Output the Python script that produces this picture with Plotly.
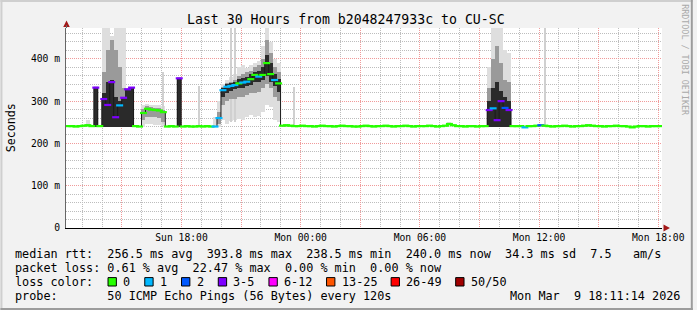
import plotly.graph_objects as go
from datetime import datetime, timedelta

# ---------------- data ----------------
start_time = datetime(2026, 3, 8, 12, 11, 14)
end_time = datetime(2026, 3, 9, 18, 11, 14)
step_minutes = 12

# median rtt per 12-minute step (ms)
median_ms = [
    241, 241, 240, 241, 242, 243, 241, 332, 241, 305,
    291, 345, 262, 290, 308, 328, 332, 241, 240, 272,
    282, 280, 279, 278, 274, 240, 241, 240, 354, 240,
    241, 240, 240, 241, 240, 241, 240, 240, 260, 326,
    334, 336, 338, 342, 344, 346, 352, 362, 358, 362,
    390, 364, 350, 342, 242, 243, 242, 241, 241, 242,
    241, 241, 240, 241, 242, 241, 241, 240, 241, 242,
    241, 241, 240, 240, 241, 242, 241, 240, 241, 241,
    242, 241, 240, 241, 241, 242, 241, 240, 241, 241,
    241, 242, 241, 240, 241, 242, 246, 243, 241, 241,
    240, 241, 241, 240, 241, 241, 279, 283, 255, 300,
    284, 279, 241, 241, 241, 238, 241, 241, 242, 243,
    242, 241, 240, 241, 241, 242, 241, 240, 241, 241,
    242, 243, 242, 241, 241, 240, 241, 241, 242, 241,
    241, 240, 238, 240, 241, 241, 240, 241, 241, 241,
]

# steps with packet loss and their loss class (index into loss_colors)
loss_steps = [7, 9, 10, 11, 12, 13, 14, 15, 16, 28, 37, 38, 39, 40, 41, 42, 44,
              45, 48, 52, 106, 107, 108, 109, 110, 111, 115, 119]
loss_class = [3, 3, 3, 3, 3, 1, 3, 3, 3, 3, 1, 1, 1, 1, 1, 1, 1,
              1, 1, 1, 3, 1, 3, 3, 2, 3, 1, 2]

# smoke: light band (outer pings)
light_steps = [5, 7, 9, 10, 11, 12, 13, 14, 15, 16, 19, 20, 21, 22, 23, 24, 28, 37, 38,
               39, 40, 41, 42, 43, 44, 45, 46, 47, 48, 49, 50, 51, 52, 53, 96,
               106, 107, 108, 109, 110, 111]
light_lo = [238, 238, 238, 238, 238, 238, 238, 238, 238, 238, 240, 245, 245, 244, 244, 242, 238, 238, 240,
            255, 245, 252, 255, 258, 255, 262, 268, 262, 265, 275, 290, 285, 255, 250, 239,
            238, 238, 238, 238, 238, 238]
light_hi = [255, 336, 473, 473, 455, 473, 473, 473, 330, 334, 290, 293, 292, 290, 290, 288, 356, 262, 300,
            340, 350, 356, 365, 380, 385, 378, 385, 390, 395, 430, 473, 440, 400, 390, 250,
            380, 473, 473, 473, 420, 415]

# smoke: middle band
mid_steps = [7, 9, 10, 11, 12, 13, 14, 15, 16, 19, 20, 21, 22, 23, 24, 28, 38,
             39, 40, 41, 42, 43, 44, 45, 46, 47, 48, 49, 50, 51, 52, 53,
             106, 107, 108, 109, 110, 111]
mid_lo = [240, 240, 240, 240, 240, 240, 240, 240, 240, 255, 262, 262, 262, 260, 250, 240, 245,
          290, 300, 305, 305, 310, 310, 315, 320, 320, 322, 330, 340, 330, 310, 300,
          240, 240, 240, 240, 240, 240]
mid_hi = [334, 370, 420, 445, 420, 380, 330, 329, 333, 282, 288, 286, 284, 283, 280, 355, 275,
          333, 342, 346, 350, 360, 365, 368, 372, 380, 385, 400, 445, 415, 380, 370,
          330, 400, 430, 390, 350, 345]

# smoke: dark core
dark_steps = [7, 9, 10, 11, 12, 13, 14, 15, 16, 28,
              39, 40, 41, 42, 43, 44, 45, 46, 47, 48, 49, 50, 51, 52, 53,
              106, 107, 108, 109, 110, 111]
dark_lo = [240, 240, 240, 240, 240, 240, 240, 240, 240, 240,
           310, 320, 325, 328, 330, 332, 335, 338, 345, 345, 350, 360, 345, 335, 322,
           240, 240, 240, 240, 240, 240]
dark_hi = [332, 320, 345, 350, 310, 300, 310, 328, 332, 354,
           330, 340, 343, 346, 352, 355, 358, 365, 370, 372, 380, 410, 390, 365, 352,
           300, 330, 345, 325, 310, 300]

# single outlier pings (thin lines)
outlier_steps = [24, 33, 41, 42, 57, 120]
outlier_lo = [245, 242, 250, 250, 242, 242]
outlier_hi = [370, 335, 473, 473, 334, 473]

loss_colors = ["#26ff00", "#00b8ff", "#0059ff", "#7e00ff", "#ff00ff", "#ff5500", "#ff0000", "#a10000"]
loss_labels = ["0", "1", "2", "3-5", "6-12", "13-25", "26-49", "50/50"]

y_tick_vals = [0, 100, 200, 300, 400]
y_tick_text = ["0", "100 m", "200 m", "300 m", "400 m"]
x_tick_times = ["2026-03-08 15:00", "2026-03-08 18:00", "2026-03-08 21:00", "2026-03-09 00:00",
                "2026-03-09 03:00", "2026-03-09 06:00", "2026-03-09 09:00", "2026-03-09 12:00",
                "2026-03-09 15:00", "2026-03-09 18:00"]
x_tick_text = ["", "Sun 18:00", "", "Mon 00:00", "", "Mon 06:00", "", "Mon 12:00", "", "Mon 18:00"]

title_text = "Last 30 Hours from b2048247933c to CU-SC"
legend_line1 = "median rtt:  256.5 ms avg  393.8 ms max  238.5 ms min  240.0 ms now  34.3 ms sd  7.5   am/s"
legend_line2 = "packet loss: 0.61 % avg  22.47 % max  0.00 % min  0.00 % now"
legend_line3 = "loss color:"
legend_line4 = "probe:       50 ICMP Echo Pings (56 Bytes) every 120s"
date_text = "Mon Mar  9 18:11:14 2026"

# ---------------- helpers ----------------
MONO = "DejaVu Sans Mono"
W, H = 697, 310
L, R, T, B = 66, 31, 28, 82
PW, PH = W - L - R, H - T - B


def px(x):
    return (x - L) / PW


def py(y):
    return (H - B - y) / PH


def step_time(i):
    return start_time + timedelta(minutes=step_minutes * (i + 0.5))


step_ms = step_minutes * 60 * 1000
centers = [step_time(i) for i in range(len(median_ms))]

loss_full = [0] * len(median_ms)
for s, c in zip(loss_steps, loss_class):
    loss_full[s] = c

fig = go.Figure()


def band(steps, lo, hi, color, width):
    fig.add_trace(go.Bar(
        x=[step_time(s) for s in steps],
        y=[h - l for l, h in zip(lo, hi)],
        base=lo,
        width=width,
        marker=dict(color=color, line=dict(width=0)),
        hoverinfo="skip",
    ))


band(light_steps, light_lo, light_hi, "#dedede", step_ms)
band(outlier_steps, outlier_lo, outlier_hi, "#d0d0d0", 180000)
band(mid_steps, mid_lo, mid_hi, "#9a9a9a", step_ms)
band(dark_steps, dark_lo, dark_hi, "#2a2a2a", step_ms)

# median transitions
fig.add_trace(go.Scatter(
    x=centers, y=median_ms, mode="lines",
    line=dict(shape="hvh", color="#1a1a1a", width=1),
    hoverinfo="skip",
))
# median coloured by loss
fig.add_trace(go.Scatter(
    x=centers, y=median_ms, mode="markers",
    marker=dict(symbol="line-ew", size=5,
                line=dict(width=2.2, color=[loss_colors[c] for c in loss_full])),
    hoverinfo="skip",
))

grid_major = "#f09a9a"
grid_minor = "#bdbdbd"
dash = "1px,1px"

fig.update_layout(
    width=W, height=H,
    margin=dict(l=L, r=R, t=T, b=B, pad=0),
    paper_bgcolor="#f2f2f2", plot_bgcolor="#ffffff",
    showlegend=False, barmode="overlay", bargap=0,
    font=dict(family=MONO, size=9.7, color="#000000"),
    xaxis=dict(
        type="date", range=[start_time, end_time],
        tickmode="array", tickvals=x_tick_times, ticktext=x_tick_text,
        showgrid=True, gridcolor=grid_major, griddash=dash, gridwidth=1,
        minor=dict(dtick=3600000, tick0="2026-03-08 12:00", showgrid=True,
                   gridcolor=grid_minor, griddash=dash, gridwidth=1),
        showline=True, linecolor="#000000", linewidth=1, zeroline=False,
        ticks="", tickfont=dict(family=MONO, size=9.7),
        fixedrange=True,
    ),
    yaxis=dict(
        range=[0, 473],
        tickmode="array", tickvals=y_tick_vals, ticktext=y_tick_text,
        showgrid=True, gridcolor=grid_major, griddash=dash, gridwidth=1,
        minor=dict(dtick=20, tick0=0, showgrid=True,
                   gridcolor=grid_minor, griddash=dash, gridwidth=1),
        showline=True, linecolor="#666666", linewidth=1, zeroline=False,
        ticks="outside", ticklen=3, tickcolor="rgba(0,0,0,0)",
        tickfont=dict(family=MONO, size=9.7),
        fixedrange=True,
    ),
)

NB = "\u00a0"
ann = []


def text(x, y, s, size=11.9, anchor="left", color="#000000", angle=0):
    ann.append(dict(
        x=px(x), y=py(y), xref="paper", yref="paper", text=s.replace(" ", NB),
        showarrow=False, xanchor=anchor, yanchor="middle", textangle=angle,
        font=dict(family=MONO, size=size, color=color), borderpad=0,
    ))


text(348, 19, title_text, size=13.2, anchor="center")
text(13.5, 254, legend_line1, size=11.8)
text(13.5, 268.3, legend_line2, size=11.8)
text(13.5, 282, legend_line3, size=11.8)
text(13.5, 296, legend_line4, size=11.8)
text(685, 296, date_text, anchor="right", size=11.8)
text(11, 128, "Seconds", size=11.7, anchor="center", angle=-90)
text(689, 60, "RRDTOOL / TOBI OETIKER", size=8.4, anchor="center", color="#a9a9a9", angle=90)

shapes = []
# legend colour boxes
bx = 108.3
for lab, col in zip(loss_labels, loss_colors):
    shapes.append(dict(type="rect", xref="paper", yref="paper",
                       x0=px(bx), x1=px(bx + 8.4), y0=py(286), y1=py(277.6),
                       fillcolor=col, line=dict(color="#000000", width=1)))
    text(bx + 14.2, 282, lab, size=11.8)
    bx = bx + 15 + 7.0 * len(lab) + 15

# axis arrows
arrow_col = "#a31818"
shapes.append(dict(type="path", xref="paper", yref="paper",
                   path=f"M {px(63.2)},{py(27)} L {px(69.8)},{py(27)} L {px(66.5)},{py(20.5)} Z",
                   fillcolor=arrow_col, line=dict(width=0)))
shapes.append(dict(type="path", xref="paper", yref="paper",
                   path=f"M {px(667.5)},{py(224.5)} L {px(667.5)},{py(231.5)} L {px(674)},{py(228)} Z",
                   fillcolor=arrow_col, line=dict(width=0)))
# y axis short extension up to arrow
shapes.append(dict(type="line", xref="paper", yref="paper",
                   x0=px(66.5), x1=px(66.5), y0=py(28), y1=py(25),
                   line=dict(color="#666666", width=1)))

# image frame
shapes.append(dict(type="rect", xref="paper", yref="paper", x0=px(0), x1=px(W), y0=py(0), y1=py(2),
                   fillcolor="#cfcfcf", line=dict(width=0)))
shapes.append(dict(type="rect", xref="paper", yref="paper", x0=px(0), x1=px(2), y0=py(0), y1=py(H),
                   fillcolor="#cfcfcf", line=dict(width=0)))
shapes.append(dict(type="rect", xref="paper", yref="paper", x0=px(0), x1=px(W), y0=py(H - 2), y1=py(H),
                   fillcolor="#9c9c9c", line=dict(width=0)))
shapes.append(dict(type="rect", xref="paper", yref="paper", x0=px(W - 2), x1=px(W), y0=py(0), y1=py(H),
                   fillcolor="#9c9c9c", line=dict(width=0)))

fig.update_layout(annotations=ann, shapes=shapes)
fig.write_html("out.html")
